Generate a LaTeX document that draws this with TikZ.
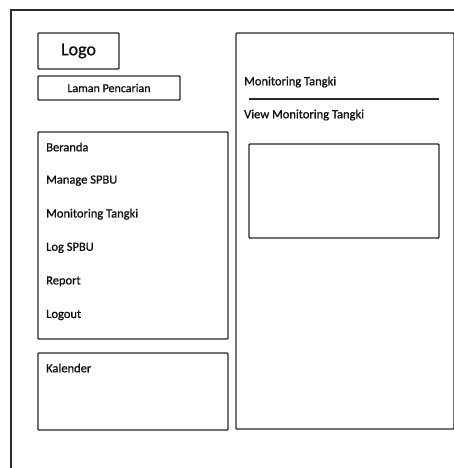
\documentclass[tikz,border=0pt]{standalone}
\usepackage{fontspec}
\setmainfont{Carlito}[FakeBold=0.9]
\definecolor{framecolor}{RGB}{40, 40, 40}
\definecolor{textcolor}{RGB}{15, 15, 15}

\begin{document}
\begin{tikzpicture}[
        x=1pt, y=-1pt,
        box/.style={draw=framecolor, line width=1.4pt, rounded corners=0.8pt,
            anchor=north west, inner sep=0pt, outer sep=0pt},
        label/.style={anchor=west, inner sep=0pt, text=textcolor,
            font=\fontsize{12.5}{14}\selectfont},
        item/.style={label}
    ]
    \useasboundingbox[fill=white] (0, 0) rectangle (454, 468);
    % outer page frame (cut off at the right and the bottom)
    \coordinate (pagebl) at (11, 468);
    \coordinate (pagetl) at (11, 10);
    \coordinate (pagetr) at (454, 10);
    \draw[framecolor, line width=1.4pt] (pagebl) -- (pagetl) -- (pagetr);

    % left column
    \node[box, minimum width=81pt, minimum height=36pt] (logo) at (38, 33) {};
    \node[text=textcolor, font=\fontsize{18}{20}\selectfont] (logotext) at (logo.center) {Logo};
    \node[box, minimum width=142pt, minimum height=24pt] (search) at (38, 76) {};
    \node[label, anchor=center, font=\fontsize{12}{14}\selectfont] (searchtext) at (search.center) {Laman Pencarian};
    \node[box, minimum width=190pt, minimum height=207pt] (menu) at (38, 132) {};
    \foreach \name/\txt [count=\i from 0] in {beranda/Beranda, spbu/Manage SPBU,
            tangki/Monitoring Tangki, log/Log SPBU, report/Report, logout/Logout}
        \node[item] (\name) at (46, 147 + 33.6 * \i) {\txt};
    \node[box, minimum width=190pt, minimum height=77pt] (calendar) at (38, 353) {};
    \node[label] (calendartext) at (46, 368) {Kalender};

    % right content panel
    \node[box, minimum width=218pt, minimum height=396pt] (panel) at (236, 33) {};
    \node[label] (title) at (244, 82) {Monitoring Tangki};
    \coordinate (rulel) at (249, 99);
    \coordinate (ruler) at (439, 99);
    \draw[framecolor, line width=1.4pt] (rulel) -- (ruler);
    \node[label] (subtitle) at (244, 115) {View Monitoring Tangki};
    \node[box, minimum width=190pt, minimum height=94pt] (view) at (249, 144) {};
\end{tikzpicture}
\end{document}
